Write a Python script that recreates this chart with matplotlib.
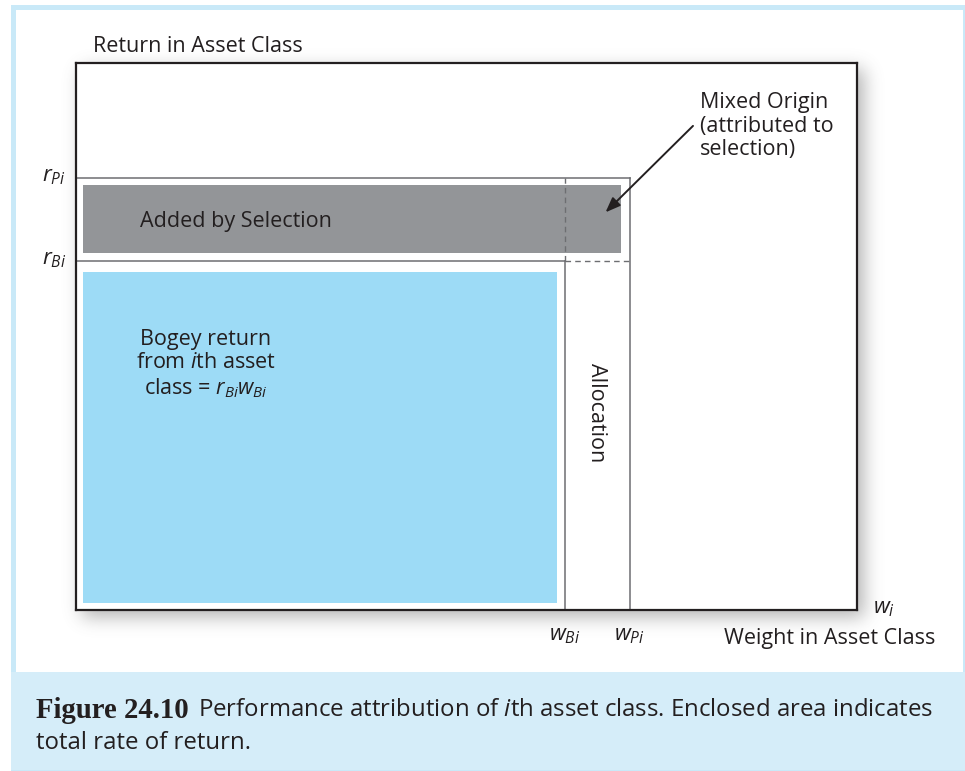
import numpy as np
import matplotlib
matplotlib.use("Agg")
import matplotlib.pyplot as plt
from matplotlib.patches import Rectangle

plt.rcParams['font.family'] = ['Open Sans', 'DejaVu Sans']
plt.rcParams['mathtext.fontset'] = 'custom'
plt.rcParams['mathtext.rm'] = 'Open Sans'
plt.rcParams['mathtext.it'] = 'Open Sans:italic'
plt.rcParams['mathtext.bf'] = 'Open Sans:bold'

# ---- data (fractions of the axis extent) ----
w_bench = 0.626   # w_Bi
w_port = 0.709    # w_Pi
r_bench = 0.638   # r_Bi
r_port = 0.790    # r_Pi
x_ticklabels = [r"$w_{Bi}$", r"$w_{Pi}$"]
y_ticklabels = [r"$r_{Bi}$", r"$r_{Pi}$"]
region_labels = ["Added by Selection", "Bogey return\nfrom $i$th asset\nclass = $r_{Bi}w_{Bi}$", "Allocation"]
annotation_text = "Mixed Origin\n(attributed to\nselection)"
x_title = "Weight in Asset Class"
y_title = "Return in Asset Class"
caption_bold = "Figure 24.10"
caption_rest = "Performance attribution of $i$th asset class. Enclosed area indicates"
caption_line2 = "total rate of return."

W, H = 965, 771
fig = plt.figure(figsize=(W / 100, H / 100), dpi=100)
fig.patch.set_facecolor('white')

border_col = '#c9e9f8'
caption_col = '#d5edf9'
# outer light-blue frame
fig.patches.append(Rectangle((11 / W, 0), (W - 11) / W, (H - 5) / H, transform=fig.transFigure,
                             facecolor=border_col, edgecolor='none', zorder=-10))
fig.patches.append(Rectangle((16 / W, (H - 672) / H), (963 - 16) / W, (672 - 10) / H,
                             transform=fig.transFigure, facecolor='white',
                             edgecolor='none', zorder=-9))
fig.patches.append(Rectangle((11 / W, 1 / H), (W - 11) / W, (H - 672 - 1) / H,
                             transform=fig.transFigure, facecolor=caption_col,
                             edgecolor='none', zorder=-8))

# main axes box in pixels
bx0, bx1, by0, by1 = 76, 857, 63, 610
ax = fig.add_axes([bx0 / W, (H - by1) / H, (bx1 - bx0) / W, (by1 - by0) / H])
ax.set_xlim(0, 1)
ax.set_ylim(0, 1)
ax.set_xticks([])
ax.set_yticks([])
for s in ax.spines.values():
    s.set_linewidth(1.6)
    s.set_color('#231f20')
ax.set_zorder(5)

# drop shadow via blurred image
yy, xx = np.mgrid[0:H, 0:W]
mask = ((xx >= bx0 + 6) & (xx <= bx1 + 6) & (yy >= by0 + 6) & (yy <= by1 + 6)).astype(float)
def blur1d(a, sigma, axis):
    r = int(3 * sigma)
    k = np.exp(-0.5 * (np.arange(-r, r + 1) / sigma) ** 2)
    k /= k.sum()
    return np.apply_along_axis(lambda v: np.convolve(v, k, mode='same'), axis, a)
mask = blur1d(blur1d(mask, 9, 0), 9, 1)
rgba = np.zeros((H, W, 4))
rgba[..., :3] = 0.35
rgba[..., 3] = mask * 0.45
rgba[(yy >= 672)] = 0
fig.figimage(rgba, xo=0, yo=0, origin='upper', zorder=-5)

line_col = '#6d6e71'
gray_fill = '#939598'
blue_fill = '#9ddbf6'
ix, iy = 0.009, 0.013

# filled regions
ax.add_patch(Rectangle((ix, r_bench + 0.0146), w_port - 0.0115 - ix,
                       (r_port - iy) - (r_bench + 0.0146),
                       facecolor=gray_fill, edgecolor='none', zorder=1))
ax.add_patch(Rectangle((ix, iy), w_bench - 0.0102 - ix, (r_bench - 0.020) - iy,
                       facecolor=blue_fill, edgecolor='none', zorder=1))

# boundary lines
ax.plot([0, w_port], [r_port, r_port], color=line_col, lw=1.1, zorder=2)
ax.plot([0, w_bench], [r_bench, r_bench], color=line_col, lw=1.1, zorder=2)
ax.plot([w_bench, w_port], [r_bench, r_bench], color=line_col, lw=1.0, ls=(0, (4, 3)), zorder=2)
ax.plot([w_bench, w_bench], [0, r_bench], color=line_col, lw=1.1, zorder=2)
ax.plot([w_bench, w_bench], [r_bench, r_port], color=line_col, lw=1.0, ls=(0, (4, 3)), zorder=2)
ax.plot([w_port, w_port], [0, r_port], color=line_col, lw=1.1, zorder=2)

tc = '#231f20'
fs = 15.5
# region labels
ax.text(0.082, (r_bench + r_port) / 2 - 0.003, region_labels[0], fontsize=fs, color=tc,
        ha='left', va='center', zorder=3)
ax.text(0.166, 0.449, region_labels[1], fontsize=fs, color=tc, ha='center', va='center',
        linespacing=1.18, zorder=3)
ax.text((w_bench + w_port) / 2 - 0.001, 0.36, region_labels[2], fontsize=fs, color=tc,
        ha='center', va='center', rotation=-90, zorder=3)

# annotation
ax.text(0.799, 0.947, annotation_text, fontsize=fs, color=tc, ha='left', va='top',
        linespacing=1.17, zorder=3)
ax.annotate('', xy=(0.678, 0.727), xytext=(0.790, 0.885),
            arrowprops=dict(arrowstyle='-|>,head_length=0.9,head_width=0.35', color=tc, lw=1.4,
                            shrinkA=0, shrinkB=0), zorder=4)

# axis labels and tick labels (outside axes)
for val, lab in zip([r_bench, r_port], y_ticklabels):
    ax.text(-0.013, val + 0.002, lab, transform=ax.transAxes, fontsize=16, color=tc,
            ha='right', va='center', clip_on=False)
for val, lab in zip([w_bench, w_port], x_ticklabels):
    ax.text(val, -0.047, lab, transform=ax.transAxes, fontsize=16, color=tc,
            ha='center', va='center', clip_on=False)
ax.text(1.035, 0.002, r"$w_i$", transform=ax.transAxes, fontsize=16, color=tc,
        ha='center', va='center', clip_on=False)
ax.text(1.1, -0.052, x_title, transform=ax.transAxes, fontsize=fs, color=tc,
        ha='right', va='center', clip_on=False)
ax.text(0.022, 1.03, y_title, transform=ax.transAxes, fontsize=fs, color=tc,
        ha='left', va='center', clip_on=False)

# caption
t1 = fig.text(36 / W, 1 - 710 / H, caption_bold, fontsize=20.7, fontweight='bold',
              family='Liberation Serif', color=tc, ha='left', va='center')
fig.canvas.draw()
bb = t1.get_window_extent()
fig.text((bb.x1 + 9) / W, 1 - 710 / H, caption_rest, fontsize=17.3, color=tc,
         ha='left', va='center')
fig.text(36 / W, 1 - 743 / H, caption_line2, fontsize=17.3, color=tc, ha='left', va='center')

fig.savefig('out.png', dpi=100)
